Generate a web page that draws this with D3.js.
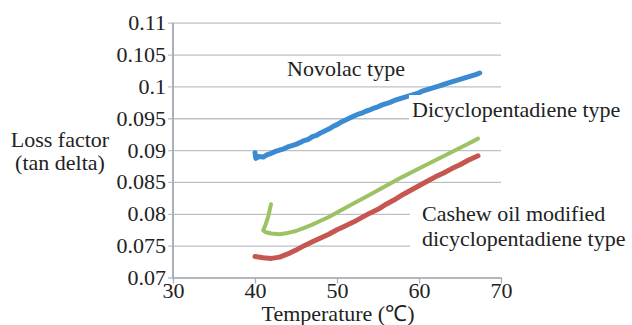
<!DOCTYPE html>
<html>
<head>
<meta charset="utf-8">
<script src="https://cdn.jsdelivr.net/npm/d3@7/dist/d3.min.js"></script>
<style>
  html, body { margin: 0; padding: 0; background: #fff; }
  svg { display: block; }
  text { font-family: "Liberation Serif", "Times New Roman", serif; fill: #222; }
</style>
</head>
<body>
<svg id="chart" width="632" height="325"></svg>
<script>
// ---------- data ----------
const xTicks = [30, 40, 50, 60, 70];
const yTicks = [0.07, 0.075, 0.08, 0.085, 0.09, 0.095, 0.1, 0.105, 0.11];
const yTickLabels = ["0.07", "0.075", "0.08", "0.085", "0.09", "0.095", "0.1", "0.105", "0.11"];

const seriesNames = ["Novolac type", "Dicyclopentadiene type", "Cashew oil modified dicyclopentadiene type"];

const novolacT = [40.0, 40.1, 40.5, 41.0, 41.5, 42.0, 42.5, 43.0, 43.5, 44.0, 44.5, 45.0, 45.5, 46.0, 46.5, 47.0, 47.5, 48.0, 48.5, 49.0, 49.5, 50.0, 50.5, 51.0, 51.5, 52.0, 52.5, 53.0, 53.5, 54.0, 54.5, 55.0, 55.5, 56.0, 56.5, 57.0, 57.5, 58.0, 58.5, 59.0, 59.5, 60.0, 60.5, 61.0, 61.5, 62.0, 62.5, 63.0, 63.5, 64.0, 64.5, 65.0, 65.5, 66.0, 66.5, 67.0, 67.4];
const novolacV = [0.0896, 0.0887, 0.0890, 0.0889, 0.0893, 0.0895, 0.0898, 0.0900, 0.0902, 0.0905, 0.0907, 0.0909, 0.0912, 0.0915, 0.0917, 0.0921, 0.0923, 0.0927, 0.0930, 0.0933, 0.0937, 0.0940, 0.0944, 0.0947, 0.0950, 0.0953, 0.0956, 0.0958, 0.0961, 0.0963, 0.0966, 0.0968, 0.0971, 0.0973, 0.0975, 0.0978, 0.0980, 0.0982, 0.0984, 0.0986, 0.0988, 0.0990, 0.0993, 0.0995, 0.0997, 0.0999, 0.1001, 0.1003, 0.1005, 0.1007, 0.1009, 0.1011, 0.1013, 0.1015, 0.1017, 0.1019, 0.1021];

const dcpdT = [41.95, 41.6, 41.2, 41.0, 41.3, 42.0, 43.0, 44.0, 45.0, 46.0, 47.0, 48.0, 49.0, 50.0, 52.0, 54.0, 56.0, 58.0, 60.0, 62.0, 64.0, 66.0, 67.2];
const dcpdV = [0.0815, 0.0795, 0.0780, 0.0774, 0.0771, 0.0769, 0.0768, 0.0770, 0.0773, 0.0778, 0.0783, 0.0789, 0.0795, 0.0802, 0.0816, 0.0830, 0.0844, 0.0858, 0.0871, 0.0884, 0.0897, 0.0910, 0.0918];

const cashewT = [40.0, 41.0, 42.0, 43.0, 44.0, 45.0, 46.0, 47.0, 48.0, 49.0, 50.0, 51.0, 52.0, 53.0, 54.0, 55.0, 56.0, 57.0, 58.0, 59.0, 60.0, 61.0, 62.0, 63.0, 64.0, 65.0, 66.0, 67.2];
const cashewV = [0.0733, 0.0731, 0.0730, 0.0732, 0.0737, 0.0743, 0.0750, 0.0756, 0.0762, 0.0768, 0.0775, 0.0781, 0.0787, 0.0794, 0.0801, 0.0807, 0.0815, 0.0822, 0.0830, 0.0837, 0.0844, 0.0851, 0.0858, 0.0864, 0.0871, 0.0877, 0.0884, 0.0891];

// ---------- layout ----------
const svg = d3.select("#chart");
const pL = 173, pR = 501, pT = 22.7, pB = 277.5;
const x = d3.scaleLinear().domain([30, 70]).range([pL, pR]);
const y = d3.scaleLinear().domain([0.07, 0.11]).range([pB, pT]);
const FS = 22;

// horizontal gridlines + y tick labels
const yAxis = svg.append("g")
  .attr("transform", `translate(${pL - 5},0)`)
  .call(d3.axisLeft(y).tickValues(yTicks)
    .tickFormat((d, i) => yTickLabels[i])
    .tickSize(-(pR - pL + 5)).tickPadding(2));
yAxis.select(".domain").remove();
yAxis.selectAll(".tick line").attr("stroke", "#bcc1c8").attr("stroke-width", 1.3);
yAxis.selectAll(".tick text").style("font-size", FS + "px").style("font-family", "Liberation Serif").attr("fill", "#222");

// x axis
const xAxis = svg.append("g")
  .attr("transform", `translate(0,${pB})`)
  .call(d3.axisBottom(x).tickValues(xTicks).tickSize(6).tickSizeOuter(0).tickPadding(0));
xAxis.select(".domain").attr("stroke", "#aab0b8").attr("stroke-width", 1.5);
xAxis.selectAll(".tick line").attr("stroke", "#aab0b8").attr("stroke-width", 1.3);
xAxis.selectAll(".tick text").style("font-size", FS + "px").style("font-family", "Liberation Serif").attr("fill", "#222").attr("dy", "0.66em");

// y axis line
svg.append("line")
  .attr("x1", pL).attr("x2", pL).attr("y1", pT).attr("y2", pB + 1)
  .attr("stroke", "#aab0b8").attr("stroke-width", 2);

// ---------- series ----------
const line = d3.line().x(d => x(d[0])).y(d => y(d[1])).curve(d3.curveLinear);
const series = [
  { t: novolacT, v: novolacV, color: "#3a8bd2", w: 5 },
  { t: dcpdT, v: dcpdV, color: "#9cc263", w: 4 },
  { t: cashewT, v: cashewV, color: "#c65650", w: 5 }
];
series.forEach(s => {
  const pts = s.t.map((t, i) => [t, s.v[i]]);
  svg.append("path").datum(pts)
    .attr("d", line)
    .attr("fill", "none")
    .attr("stroke", s.color)
    .attr("stroke-width", s.w)
    .attr("stroke-linejoin", "round")
    .attr("stroke-linecap", "round");
});

// ---------- labels ----------
function label(lines, lx, baselines, padL, padR, padT, padB) {
  const g = svg.append("g");
  const rect = g.append("rect").attr("fill", "#fff");
  const txt = lines.map((s, i) => g.append("text")
    .attr("x", lx).attr("y", baselines[i])
    .style("font-size", FS + "px").text(s));
  let x0 = Infinity, y0 = Infinity, x1 = -Infinity, y1 = -Infinity;
  txt.forEach(t => { const b = t.node().getBBox();
    x0 = Math.min(x0, b.x); y0 = Math.min(y0, b.y);
    x1 = Math.max(x1, b.x + b.width); y1 = Math.max(y1, b.y + b.height); });
  rect.attr("x", x0 - padL).attr("y", y0 - padT)
      .attr("width", x1 - x0 + padL + padR).attr("height", y1 - y0 + padT + padB);
}
label([seriesNames[0]], 287, [76], 3, 3, 0, 0);
label([seriesNames[1]], 412, [117], 3, 4, 2, 4);
label(["Cashew oil modified", "dicyclopentadiene type"], 422, [221, 246], 12, 4, 2, 4);

// axis titles
svg.append("text").attr("x", 60).attr("y", 147).attr("text-anchor", "middle")
  .style("font-size", FS + "px").text("Loss factor");
svg.append("text").attr("x", 60).attr("y", 170).attr("text-anchor", "middle")
  .style("font-size", FS + "px").text("(tan delta)");
svg.append("text").attr("x", 338).attr("y", 321).attr("text-anchor", "middle")
  .style("font-size", FS + "px").text("Temperature (℃)");
</script>
</body>
</html>
